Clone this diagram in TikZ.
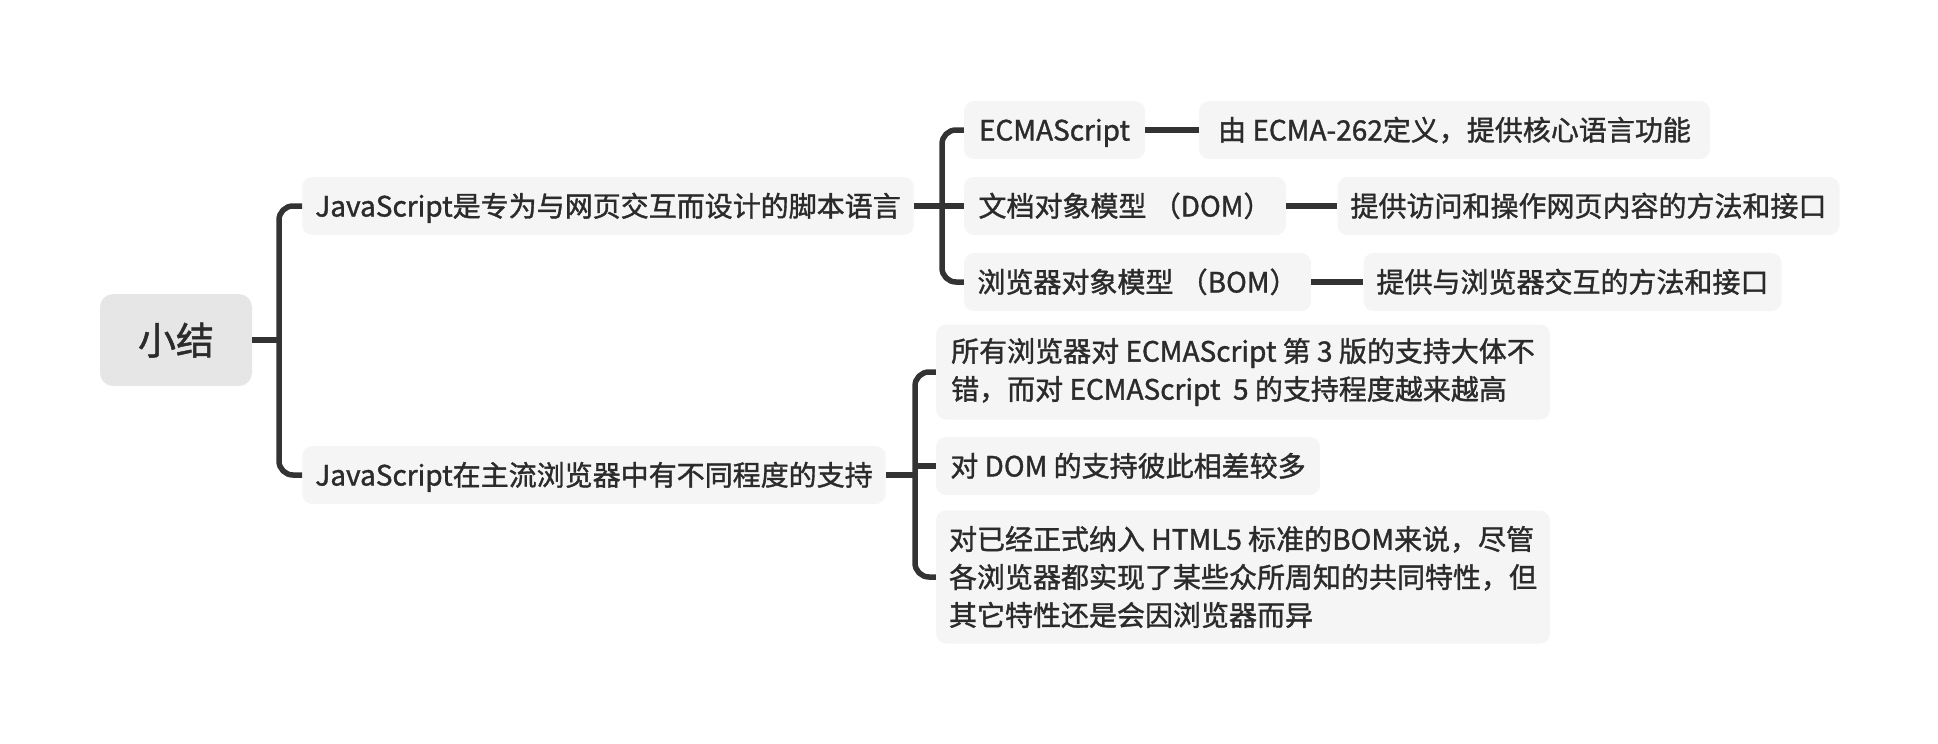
\documentclass[tikz,border=0pt]{standalone}
\usepackage{fontspec}
\setmainfont{Noto Sans CJK SC}[FakeBold=1.3]
\definecolor{linegray}{HTML}{333333}
\definecolor{textgray}{HTML}{2B2B2B}
\definecolor{boxgray}{HTML}{F5F5F5}
\definecolor{rootgray}{HTML}{E6E6E6}
\tikzset{
  note/.style={fill=boxgray, rounded corners=10pt, text=textgray, inner xsep=13pt, inner ysep=0pt,
    font=\fontsize{28}{38}\selectfont},
  topic/.style={note, minimum height=58pt, text height=25pt, text depth=4pt},
  branch/.style={draw=linegray, line width=5.5pt, rounded corners=14pt},
}
\begin{document}
\begin{tikzpicture}[x=1pt,y=-1pt]
  \useasboundingbox (0,0) rectangle (1938,744);
  % main topic
  \node[topic, fill=rootgray, rounded corners=13pt, minimum width=152pt, minimum height=92pt,
        text height=34pt, text depth=5pt, font=\fontsize{38}{46}\selectfont] (root) at (176,340) {小结};
  % first level
  \node[topic, minimum width=606pt] (js) at (608,206) {JavaScript是专为与网页交互而设计的脚本语言};
  \node[topic, minimum width=578pt] (support) at (594,475) {JavaScript在主流浏览器中有不同程度的支持};
  % parts of JavaScript
  \node[topic, minimum width=181pt] (ecma) at (1054.5,130) {ECMAScript};
  \node[topic, minimum width=511pt] (ecmadef) at (1454.5,130) {由 ECMA-262定义，提供核心语言功能};
  \node[topic, minimum width=322pt] (dom) at (1125,206) {文档对象模型 （DOM）};
  \node[topic, minimum width=499pt] (domdef) at (1588.5,206) {提供访问和操作网页内容的方法和接口};
  \node[topic, minimum width=347pt] (bom) at (1137.5,282) {浏览器对象模型 （BOM）};
  \node[topic, minimum width=415pt] (bomdef) at (1572.5,282) {提供与浏览器交互的方法和接口};
  % browser support
  \node[note, align=left, minimum width=614pt, minimum height=95pt] (ver) at (1243,372)
    {所有浏览器对 ECMAScript 第 3 版的支持大体不\\错，而对 ECMAScript\ \ 5 的支持程度越来越高};
  \node[topic, minimum width=384pt] (domsup) at (1128,466) {对 DOM 的支持彼此相差较多};
  \node[note, align=left, minimum width=614pt, minimum height=133pt] (bomsup) at (1243,577)
    {对已经正式纳入 HTML5 标准的BOM来说，尽管\\各浏览器都实现了某些众所周知的共同特性，但\\其它特性还是会因浏览器而异};
  % junctions
  \coordinate (rootJ) at (279,340);
  \coordinate (jsJ) at (942,206);
  \coordinate (supJ) at (915,475);
  % connectors
  \draw[branch] (root.east) -- (rootJ);
  \draw[branch] (js.west) -| (rootJ) |- (support.west);
  \draw[branch] (js.east) -- (jsJ);
  \draw[branch] (ecma.west) -| (jsJ) |- (bom.west);
  \draw[branch] (jsJ) -- (dom.west);
  \draw[branch] (ecma.east) -- (ecmadef.west);
  \draw[branch] (dom.east) -- (domdef.west);
  \draw[branch] (bom.east) -- (bomdef.west);
  \draw[branch] (support.east) -- (supJ);
  \draw[branch] (ver.west) -| (supJ) |- (bomsup.west);
  \draw[branch] (supJ |- domsup.west) -- (domsup.west);
\end{tikzpicture}
\end{document}
